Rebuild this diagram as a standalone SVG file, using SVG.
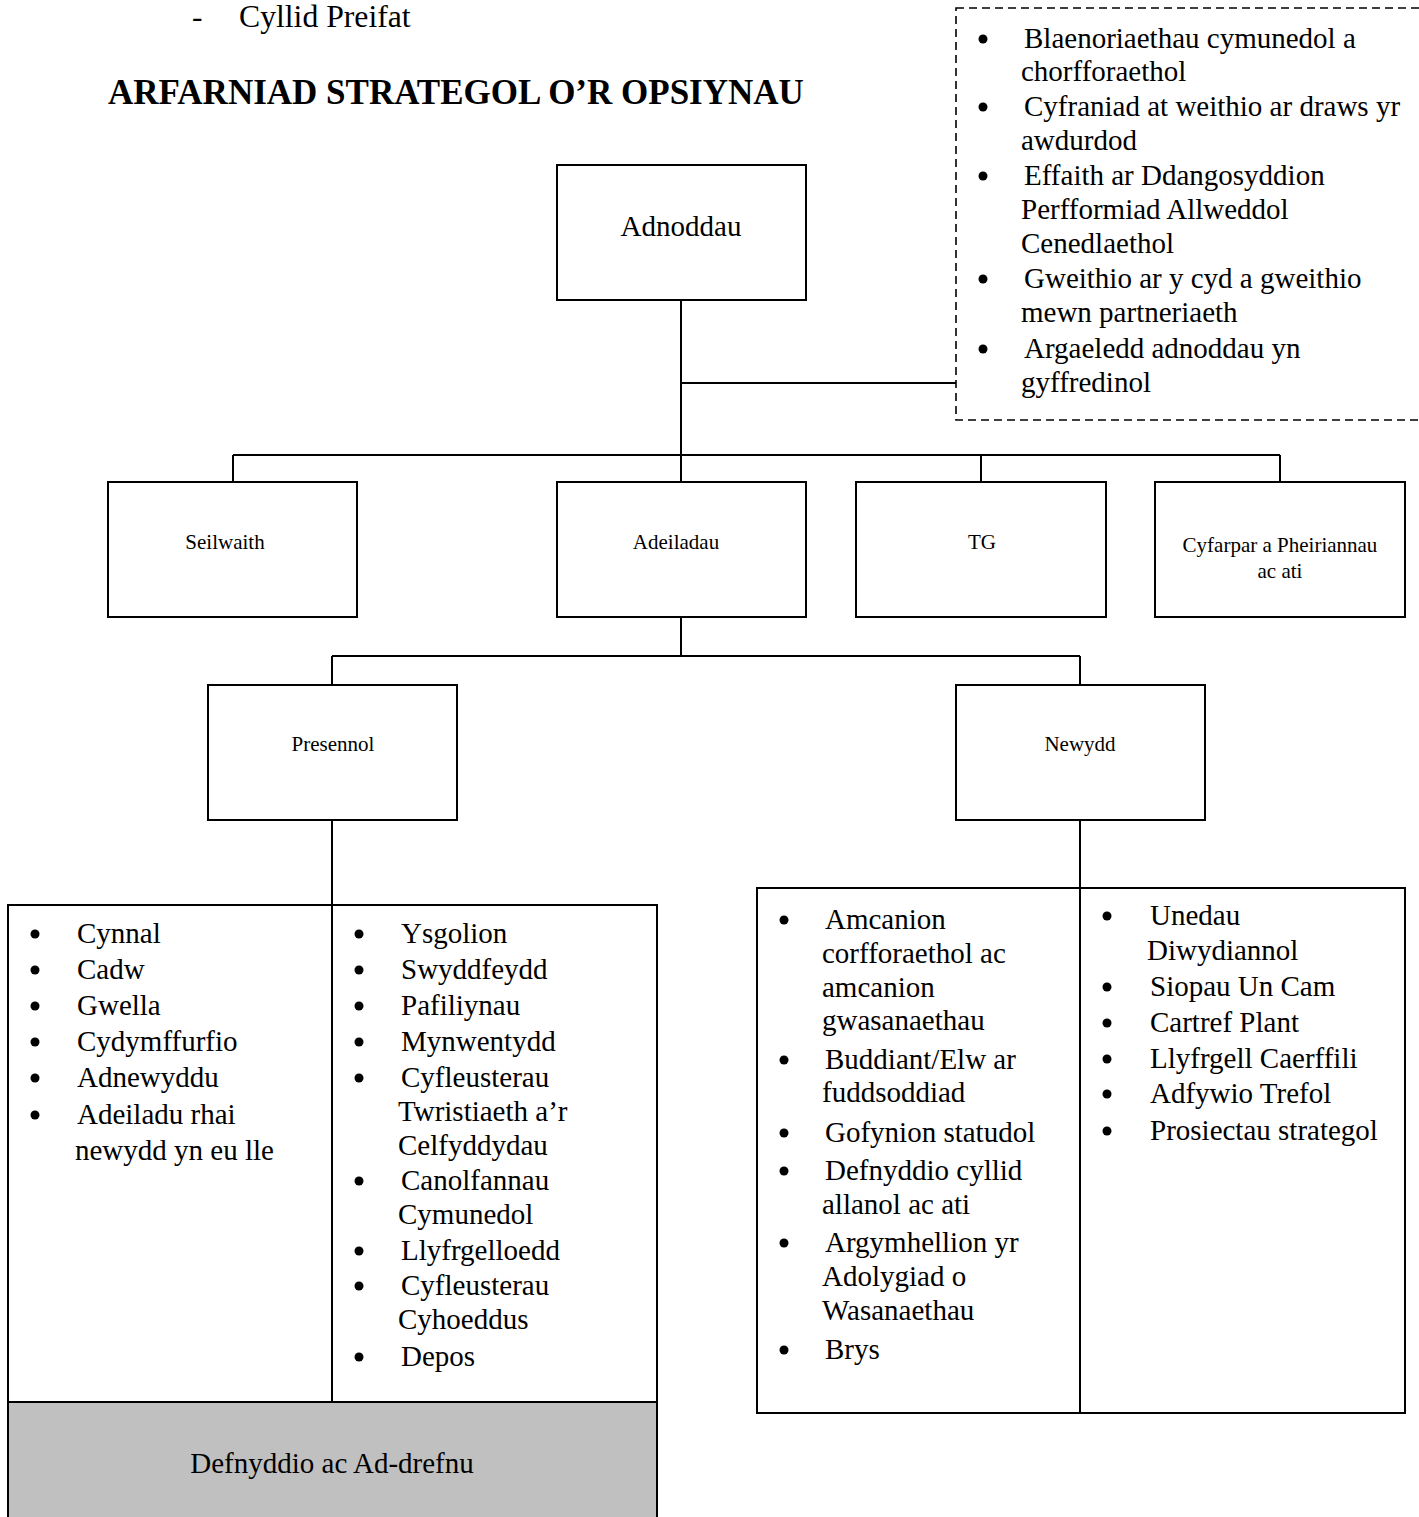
<svg xmlns="http://www.w3.org/2000/svg" width="1419" height="1517" viewBox="0 0 1419 1517">
<style>
text{font-family:"Liberation Serif","Times New Roman",serif;fill:#000}
.t{font-size:29px}
.s{font-size:21px}
.box{fill:#fff;stroke:#000;stroke-width:2}
.ln{fill:none;stroke:#000;stroke-width:2}
.b{fill:#000}
</style>
<rect width="1419" height="1517" fill="#fff"/>
<g id="heading">
<text x="192" y="27" style="font-size:31.5px">-</text>
<text x="239" y="27" style="font-size:31.7px">Cyllid Preifat</text>
<text x="108" y="104" style="font-size:35px;font-weight:bold">ARFARNIAD STRATEGOL O’R OPSIYNAU</text>
</g>
<g id="connectors">
<path class="ln" d="M681 300V482M681 383H956M233 455H1280M233 455V482M981 455V482M1280 455V482"/>
<path class="ln" d="M681 617V656M332 656H1080M332 656V685M1080 656V685"/>
<path class="ln" d="M332 820V905M1080 820V888"/>
</g>
<g id="criteria">
<rect x="956" y="8" width="480" height="412" fill="none" stroke="#000" stroke-width="1.6" stroke-dasharray="8,5"/>
<g class="b"><circle cx="983" cy="39" r="4.5"/><circle cx="983" cy="107" r="4.5"/><circle cx="983" cy="176" r="4.5"/><circle cx="983" cy="279" r="4.5"/><circle cx="983" cy="349" r="4.5"/></g>
<text class="t" x="1024" y="48">Blaenoriaethau cymunedol a</text>
<text class="t" x="1021" y="81">chorfforaethol</text>
<text class="t" x="1024" y="116">Cyfraniad at weithio ar draws yr</text>
<text class="t" x="1021" y="150">awdurdod</text>
<text class="t" x="1024" y="185">Effaith ar Ddangosyddion</text>
<text class="t" x="1021" y="219">Perfformiad Allweddol</text>
<text class="t" x="1021" y="253">Cenedlaethol</text>
<text class="t" x="1024" y="288">Gweithio ar y cyd a gweithio</text>
<text class="t" x="1021" y="322">mewn partneriaeth</text>
<text class="t" x="1024" y="358">Argaeledd adnoddau yn</text>
<text class="t" x="1021" y="392">gyffredinol</text>
</g>
<g id="adnoddau">
<rect class="box" x="557" y="165" width="249" height="135"/>
<text class="t" x="681" y="236" text-anchor="middle">Adnoddau</text>
</g>
<g id="seilwaith">
<rect class="box" x="108" y="482" width="249" height="135"/>
<text class="s" x="225" y="549" text-anchor="middle">Seilwaith</text>
</g>
<g id="adeiladau">
<rect class="box" x="557" y="482" width="249" height="135"/>
<text class="s" x="676" y="549" text-anchor="middle">Adeiladau</text>
</g>
<g id="tg">
<rect class="box" x="856" y="482" width="250" height="135"/>
<text class="s" x="982" y="549" text-anchor="middle">TG</text>
</g>
<g id="cyfarpar">
<rect class="box" x="1155" y="482" width="250" height="135"/>
<text class="s" x="1280" y="552" text-anchor="middle">Cyfarpar a Pheiriannau</text>
<text class="s" x="1280" y="578" text-anchor="middle">ac ati</text>
</g>
<g id="presennol">
<rect class="box" x="208" y="685" width="249" height="135"/>
<text class="s" x="333" y="751" text-anchor="middle">Presennol</text>
</g>
<g id="newydd">
<rect class="box" x="956" y="685" width="249" height="135"/>
<text class="s" x="1080" y="751" text-anchor="middle">Newydd</text>
</g>
<g id="presennol-list">
<rect class="box" x="8" y="905" width="649" height="640"/>
<rect x="8" y="1402" width="649" height="140" fill="#c0c0c0" stroke="#000" stroke-width="2"/>
<line class="ln" x1="332" y1="905" x2="332" y2="1402"/>
<g class="b">
<circle cx="35" cy="934" r="4.5"/><circle cx="35" cy="970" r="4.5"/><circle cx="35" cy="1006" r="4.5"/><circle cx="35" cy="1042" r="4.5"/><circle cx="35" cy="1078" r="4.5"/><circle cx="35" cy="1115" r="4.5"/>
<circle cx="359" cy="934" r="4.5"/><circle cx="359" cy="970" r="4.5"/><circle cx="359" cy="1006" r="4.5"/><circle cx="359" cy="1042" r="4.5"/><circle cx="359" cy="1078" r="4.5"/><circle cx="359" cy="1181" r="4.5"/><circle cx="359" cy="1251" r="4.5"/><circle cx="359" cy="1286" r="4.5"/><circle cx="359" cy="1357" r="4.5"/>
</g>
<text class="t" x="77" y="943">Cynnal</text>
<text class="t" x="77" y="979">Cadw</text>
<text class="t" x="77" y="1015">Gwella</text>
<text class="t" x="77" y="1051">Cydymffurfio</text>
<text class="t" x="77" y="1087">Adnewyddu</text>
<text class="t" x="77" y="1124">Adeiladu rhai</text>
<text class="t" x="75" y="1160">newydd yn eu lle</text>
<text class="t" x="401" y="943">Ysgolion</text>
<text class="t" x="401" y="979">Swyddfeydd</text>
<text class="t" x="401" y="1015">Pafiliynau</text>
<text class="t" x="401" y="1051">Mynwentydd</text>
<text class="t" x="401" y="1087">Cyfleusterau</text>
<text class="t" x="398" y="1121">Twristiaeth a’r</text>
<text class="t" x="398" y="1155">Celfyddydau</text>
<text class="t" x="401" y="1190">Canolfannau</text>
<text class="t" x="398" y="1224">Cymunedol</text>
<text class="t" x="401" y="1260">Llyfrgelloedd</text>
<text class="t" x="401" y="1295">Cyfleusterau</text>
<text class="t" x="398" y="1329">Cyhoeddus</text>
<text class="t" x="401" y="1366">Depos</text>
<text class="t" x="332" y="1473" text-anchor="middle">Defnyddio ac Ad-drefnu</text>
</g>
<g id="newydd-list">
<rect class="box" x="757" y="888" width="648" height="525"/>
<line class="ln" x1="1080" y1="888" x2="1080" y2="1413"/>
<g class="b">
<circle cx="784" cy="920" r="4.5"/><circle cx="784" cy="1060" r="4.5"/><circle cx="784" cy="1133" r="4.5"/><circle cx="784" cy="1171" r="4.5"/><circle cx="784" cy="1243" r="4.5"/><circle cx="784" cy="1350" r="4.5"/>
<circle cx="1107" cy="916" r="4.5"/><circle cx="1107" cy="987" r="4.5"/><circle cx="1107" cy="1023" r="4.5"/><circle cx="1107" cy="1059" r="4.5"/><circle cx="1107" cy="1094" r="4.5"/><circle cx="1107" cy="1131" r="4.5"/>
</g>
<text class="t" x="825" y="929">Amcanion</text>
<text class="t" x="822" y="963">corfforaethol ac</text>
<text class="t" x="822" y="997">amcanion</text>
<text class="t" x="822" y="1030">gwasanaethau</text>
<text class="t" x="825" y="1069">Buddiant/Elw ar</text>
<text class="t" x="822" y="1102">fuddsoddiad</text>
<text class="t" x="825" y="1142">Gofynion statudol</text>
<text class="t" x="825" y="1180">Defnyddio cyllid</text>
<text class="t" x="822" y="1214">allanol ac ati</text>
<text class="t" x="825" y="1252">Argymhellion yr</text>
<text class="t" x="822" y="1286">Adolygiad o</text>
<text class="t" x="822" y="1320">Wasanaethau</text>
<text class="t" x="825" y="1359">Brys</text>
<text class="t" x="1150" y="925">Unedau</text>
<text class="t" x="1147" y="960">Diwydiannol</text>
<text class="t" x="1150" y="996">Siopau Un Cam</text>
<text class="t" x="1150" y="1032">Cartref Plant</text>
<text class="t" x="1150" y="1068">Llyfrgell Caerffili</text>
<text class="t" x="1150" y="1103">Adfywio Trefol</text>
<text class="t" x="1150" y="1140">Prosiectau strategol</text>
</g>
</svg>
